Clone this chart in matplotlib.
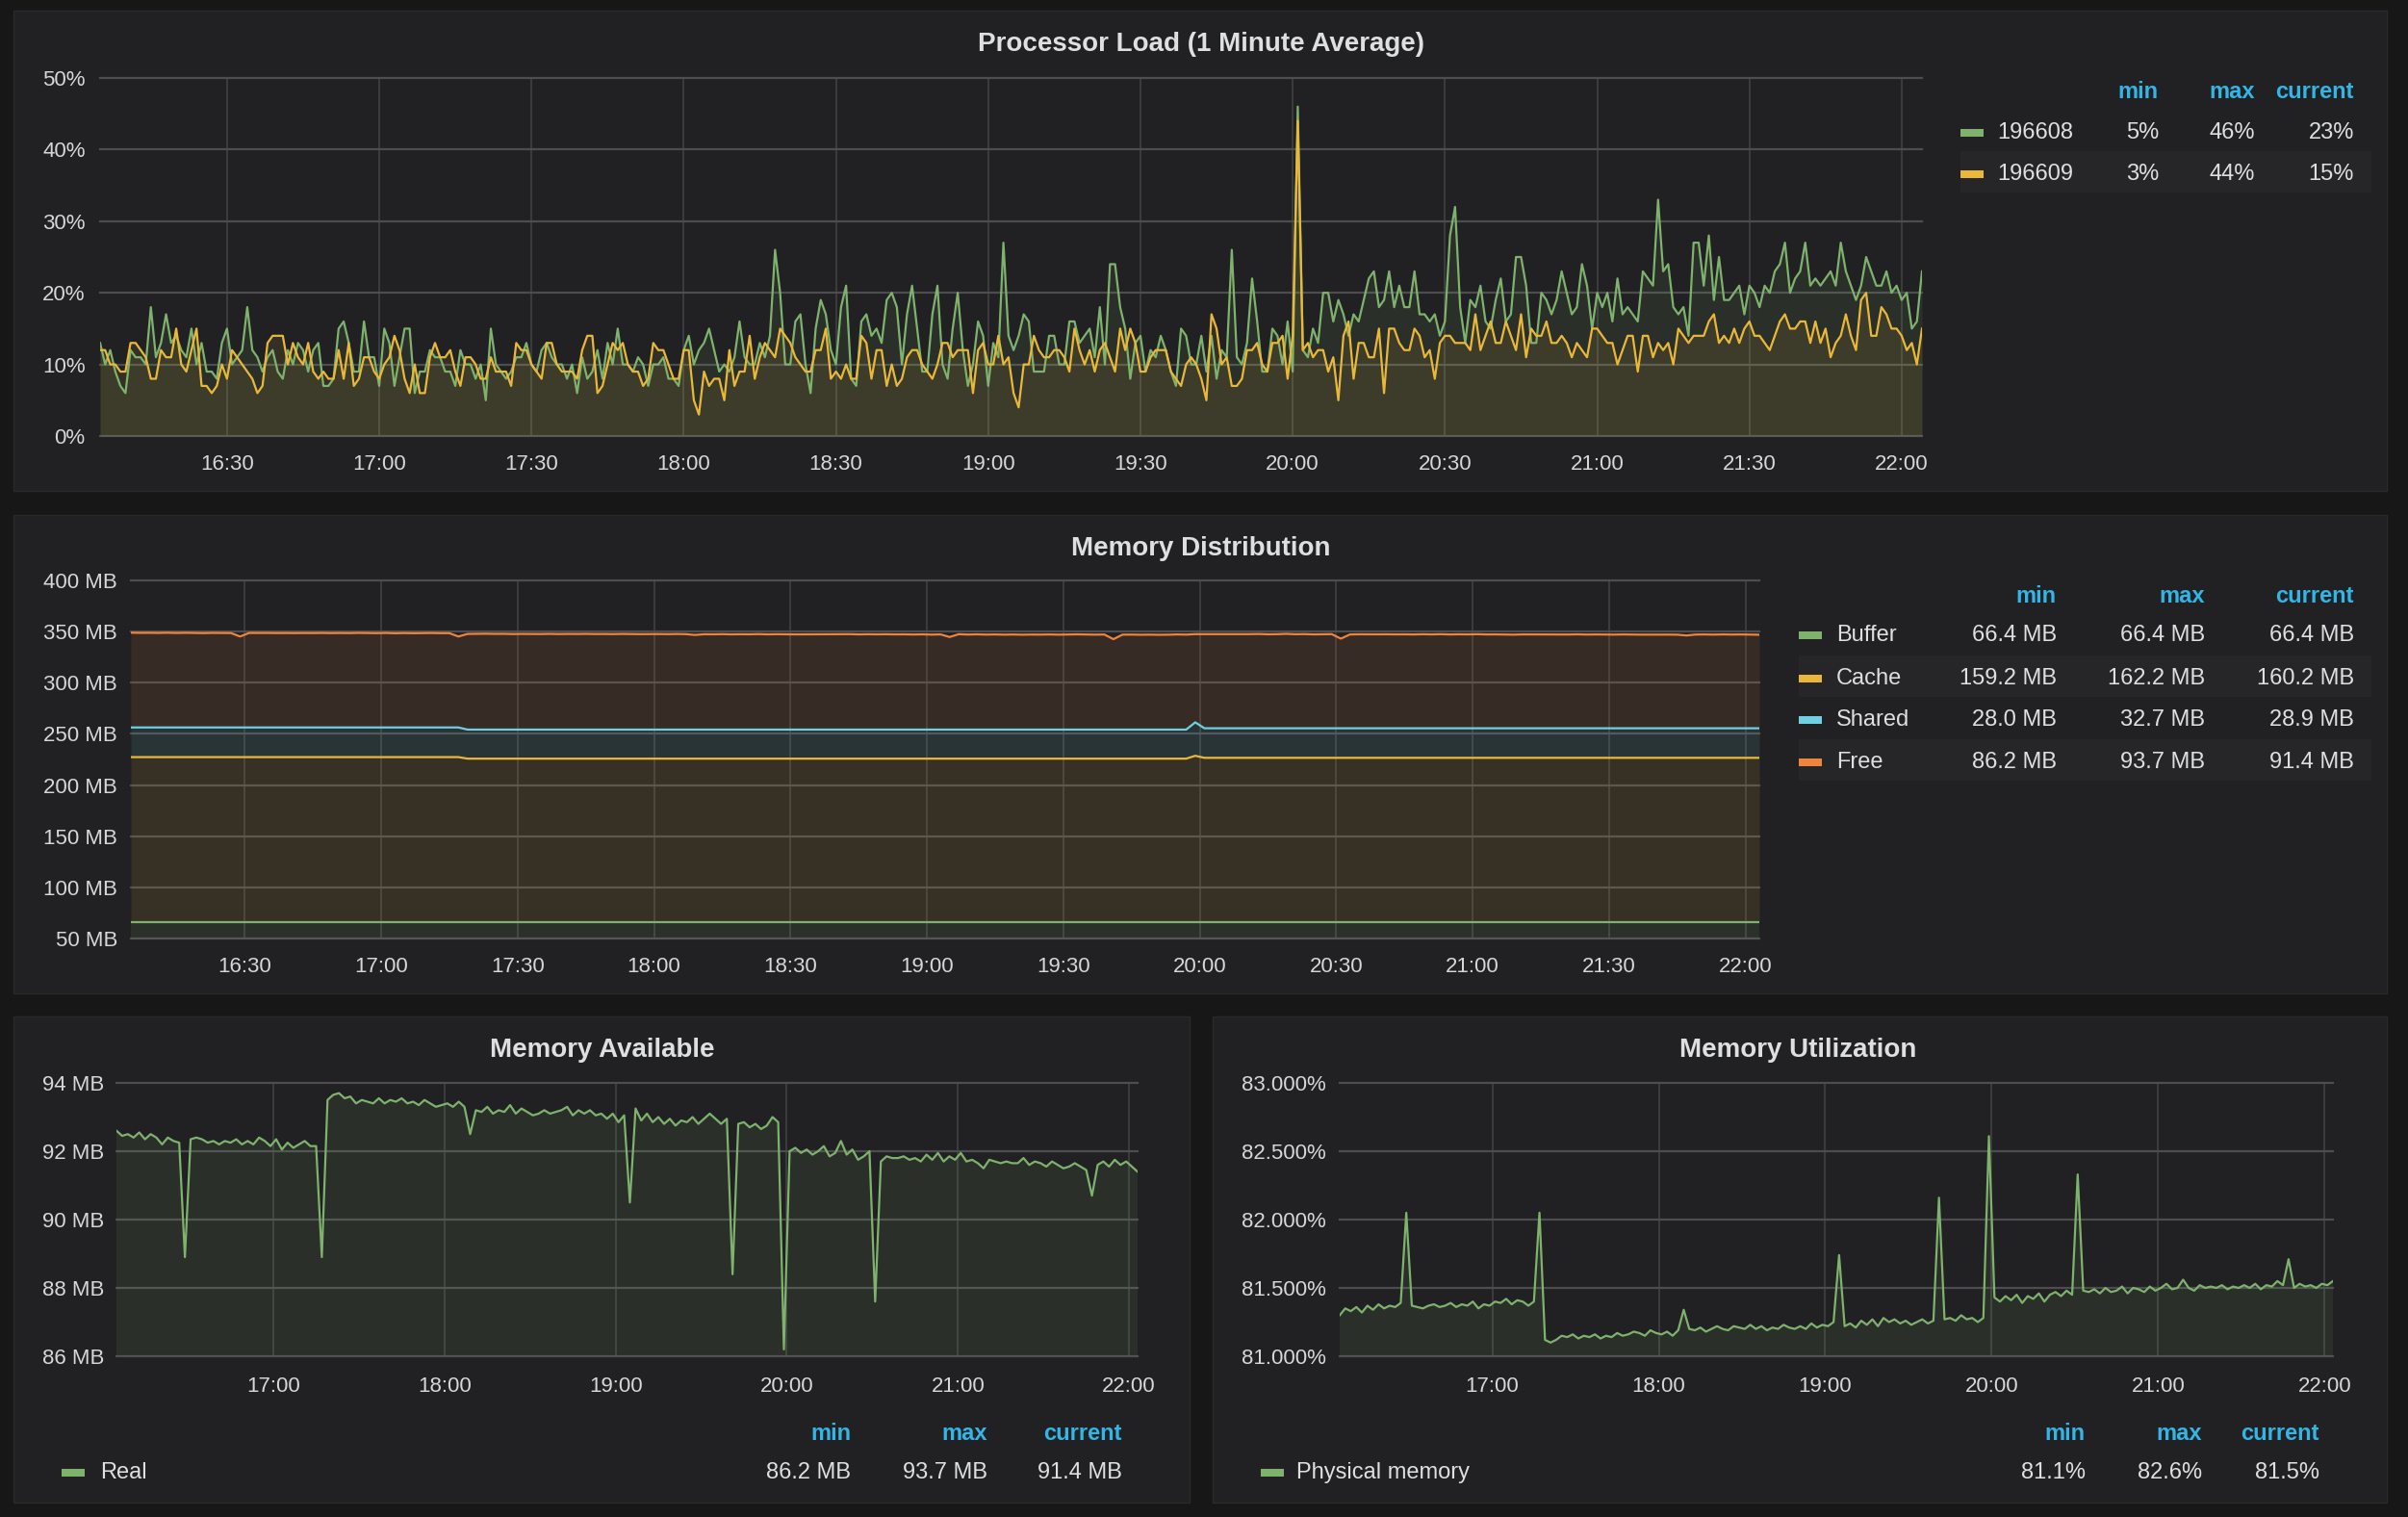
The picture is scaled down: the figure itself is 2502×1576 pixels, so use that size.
import numpy as np
import matplotlib
matplotlib.use("Agg")
import matplotlib.pyplot as plt
from matplotlib.patches import Rectangle
from matplotlib.ticker import FixedLocator, FuncFormatter

plt.rcParams['font.family'] = ['Liberation Sans', 'DejaVu Sans']

# ---------------------------------------------------------------- data
# Processor load, one value per minute starting 16:05 (percent)
cpu_start = 5          # minutes after 16:00
cpu_196608 = [
    13,10,12,9,7,6,12,11,11,10, 18,11,13,17,13,14,12,11,15,10, 13,9,9,8,13,15,10,11,12,18,
    12,11,9,11,12,9,8,12,10,13, 12,9,12,13,7,7,8,15,16,13, 9,9,16,11,11,7,15,13,7,11,
    15,15,6,9,9,12,11,11,9,9, 7,12,10,10,8,10,5,15,10,9, 8,9,11,11,13,10,9,12,13,11, 10,
    10,8,10,6,11,8,9,12,8,13, 10,15,10,10,9,11,10,7,10,10, 11,8,8,7,12,14,10,12,13,15,
    12,9,10,9,11,16,11,10,10,13, 11,14,26,20,10,10,16,17,10,6, 15,19,17,12,10,18,21,8,7,16,
    17,14,15,13,19,20,18,10,17,21, 15,9,9,17,21,10,8,15,20,12, 7,10,16,14,7,13,11,27,14,12,
    14,17,16,9,9,9,14,14,10,10, 16,16,13,14,15,11,18,10,24,24, 18,15,8,13,14,9,12,11,14,12,
    9,7,15,14,10,10,14,9,14,8, 12,11,26,11,10,13,22,16,9,9, 15,14,10,16,9,46,12,11,15,13,
    20,20,16,19,17,14,17,16,19,22, 23,18,19,23,18,21,18,18,23,17, 17,16,17,14,16,28,32,18,13,19,
    18,21,16,15,19,22,16,17,25,25, 21,13,13,20,19,17,19,23,20,17, 18,24,21,15,20,18,20,16,22,17,
    18,17,16,23,22,21,33,23,24,18, 17,18,14,27,27,21,28,19,25,19, 19,20,21,17,21,20,18,21,20,23,
    24,27,20,22,23,27,21,22,21,22, 23,21,27,23,21,19,21,25,23,21, 21,23,20,21,19,20,15,16,23,
]
cpu_196609 = [
    12,12,10,10,9,9,13,13,12,11, 8,8,12,11,11,15,10,9,12,15, 7,7,6,7,10,8,12,11,10,9,
    8,6,7,13,14,14,14,10,13,11, 10,13,9,8,9,8,8,12,8,13, 7,8,11,11,9,8,10,11,14,12,
    8,6,10,6,6,11,13,11,11,12, 9,7,11,11,10,8,8,11,9,9, 9,7,13,12,12,10,9,8,13,13, 10,
    9,9,9,8,12,14,14,6,7,10, 13,12,13,10,9,9,7,8,13,12, 12,10,8,8,12,12,5,3,9,7,
    8,8,5,12,7,9,9,14,8,11, 13,12,11,15,14,13,11,10,9,9, 12,12,15,8,9,8,10,8,8,14,
    13,8,12,12,7,10,7,8,11,12, 12,10,9,8,10,13,13,11,12,12, 12,6,12,13,10,10,14,10,11,6,
    4,10,10,14,12,11,11,12,12,11, 9,15,12,10,12,9,12,13,11,9, 15,12,15,13,9,9,11,12,12,12,
    9,8,7,10,11,10,8,5,17,15, 10,11,7,7,8,12,12,13,10,9, 13,13,14,8,14,44,12,13,11,12,
    12,9,11,5,14,16,8,13,13,11, 11,15,6,15,15,13,12,12,15,14, 11,12,8,13,14,14,13,13,13,12,
    17,12,14,16,13,13,16,14,12,17, 11,15,14,14,16,13,13,14,13,11, 13,12,11,15,15,14,13,13,10,12,
    14,14,9,14,14,11,13,12,13,10, 15,14,13,14,14,14,16,17,13,14, 13,15,13,15,16,14,14,13,12,14,
    16,17,15,15,16,16,13,16,13,15, 11,13,14,17,14,12,19,20,14,14, 18,17,15,15,14,12,13,10,15,
]
cpu_names = ['196608', '196609']
cpu_stats = [['5%', '46%', '23%'], ['3%', '44%', '15%']]

# Memory series, one value every 2 minutes starting 16:05
mem_start = 5
mem_step = 2
mem_real = [
    92.6, 92.45, 92.5, 92.4, 92.55, 92.35, 92.5, 92.4, 92.2, 92.4, 92.3, 92.25,
    88.9,
    92.35, 92.4, 92.35, 92.25, 92.3, 92.2, 92.3, 92.25, 92.35, 92.2, 92.3, 92.2, 92.4, 92.3,
    92.15, 92.35, 92.05, 92.25, 92.1, 92.2, 92.3, 92.15, 92.15,
    88.9, 93.5,
    93.65, 93.7, 93.55, 93.6, 93.4, 93.5, 93.45, 93.4, 93.55, 93.4, 93.5, 93.45, 93.55, 93.4,
    93.45, 93.35, 93.5, 93.4, 93.3, 93.35, 93.4, 93.3, 93.45, 93.3,
    92.5,
    93.2, 93.15, 93.3, 93.1, 93.2, 93.15, 93.35, 93.1, 93.25, 93.15, 93.05, 93.1, 93.2, 93.1,
    93.15, 93.2, 93.3, 93.05, 93.2, 93.1, 93.2, 93.05, 93.1, 92.95, 93.1, 92.85, 93.05,
    90.5,
    93.25, 92.9, 93.1, 92.85, 93.0, 92.8, 92.95, 92.75, 92.9, 92.85, 93.0, 92.8, 92.95, 93.1,
    92.95, 92.8, 92.95,
    88.4,
    92.8, 92.85, 92.7, 92.8, 92.65, 92.75, 93.0, 92.85,
    86.2,
    92.0, 92.1, 91.95, 92.05, 91.9, 92.0, 92.15, 91.85, 91.95, 92.3, 91.9, 92.05, 91.75, 91.85, 92.0,
    87.6,
    91.7, 91.85, 91.8, 91.8, 91.85, 91.75, 91.8, 91.7, 91.9, 91.75, 91.95, 91.7, 91.85, 91.75,
    91.95, 91.7, 91.75, 91.65, 91.5, 91.75, 91.7, 91.65, 91.7, 91.65, 91.65, 91.8, 91.6, 91.7,
    91.65, 91.55, 91.7, 91.6, 91.5, 91.55, 91.65, 91.55, 91.45,
    90.7,
    91.6, 91.7, 91.55, 91.75, 91.6, 91.7, 91.55, 91.4,
]
mem_util = [
    81.3, 81.35, 81.33, 81.36, 81.32, 81.37, 81.34, 81.38, 81.35, 81.37, 81.36, 81.39,
    82.05,
    81.37, 81.36, 81.35, 81.37, 81.38, 81.36, 81.37, 81.39, 81.36, 81.38, 81.37, 81.4, 81.35,
    81.38, 81.37, 81.4, 81.39, 81.42, 81.38, 81.41, 81.4, 81.37, 81.4,
    82.05, 81.12,
    81.1, 81.12, 81.15, 81.14, 81.16, 81.13, 81.15, 81.14, 81.16, 81.13, 81.15, 81.14, 81.17,
    81.15, 81.16, 81.18, 81.17, 81.15, 81.19, 81.17, 81.16, 81.18, 81.15, 81.19,
    81.34,
    81.2, 81.19, 81.21, 81.18, 81.2, 81.22, 81.2, 81.19, 81.22, 81.21, 81.2, 81.23, 81.2, 81.22,
    81.19, 81.21, 81.2, 81.23, 81.21, 81.2, 81.22, 81.2, 81.24, 81.21, 81.23, 81.22, 81.25,
    81.74,
    81.22, 81.24, 81.21, 81.26, 81.23, 81.27, 81.22, 81.28, 81.25, 81.27, 81.24, 81.26, 81.23,
    81.25, 81.27, 81.24, 81.26,
    82.16,
    81.27, 81.28, 81.26, 81.3, 81.27, 81.28, 81.25, 81.28,
    82.61,
    81.43, 81.4, 81.44, 81.41, 81.45, 81.39, 81.44, 81.42, 81.46, 81.4, 81.45, 81.47, 81.44,
    81.48, 81.45,
    82.33,
    81.48, 81.47, 81.49, 81.46, 81.5, 81.47, 81.48, 81.51, 81.46, 81.5, 81.49, 81.47, 81.51,
    81.48, 81.5, 81.53, 81.49, 81.5, 81.56, 81.5, 81.48, 81.52, 81.5, 81.51, 81.5, 81.52, 81.49,
    81.51, 81.5, 81.52, 81.5, 81.53, 81.49, 81.52, 81.51, 81.55, 81.52,
    81.71,
    81.5, 81.53, 81.51, 81.52, 81.5, 81.53, 81.52, 81.55,
]
mem_buffer = [66.4] * 180
mem_cache = [160.9] * 37 + [159.4] * 80 + [162.2] + [160.2] * 62
mem_shared = [29.0] * 37 + [28.4] * 80 + [32.7] + [28.9] * 62
mem_free = mem_real
dist_names = ['Buffer', 'Cache', 'Shared', 'Free']
dist_stats = [['66.4 MB', '66.4 MB', '66.4 MB'], ['159.2 MB', '162.2 MB', '160.2 MB'],
              ['28.0 MB', '32.7 MB', '28.9 MB'], ['86.2 MB', '93.7 MB', '91.4 MB']]
avail_names = ['Real']
avail_stats = [['86.2 MB', '93.7 MB', '91.4 MB']]
util_names = ['Physical memory']
util_stats = [['81.1%', '82.6%', '81.5%']]
stat_headers = ['min', 'max', 'current']

# ---------------------------------------------------------------- style
W, H = 2502, 1576
FIG_BG = '#171718'
PANEL_BG = '#212123'
PANEL_EDGE = '#2a2a2c'
ROW_HL = '#262628'
HGRID = '#4d4d4f'
VGRID = '#444446'
TXT = '#dedfe0'
TICK = '#d6d7d8'
BLUE = '#33b5e5'
GREEN = '#7eb26d'
YELLOW = '#eab839'
CYAN = '#6ed0e0'
ORANGE = '#ef843c'
DY = 3  # baseline nudge for centred text

fig = plt.figure(figsize=(W / 100, H / 100), dpi=100, facecolor=FIG_BG)


def frect(x0, y0, x1, y1):
    return [x0 / W, 1 - y1 / H, (x1 - x0) / W, (y1 - y0) / H]


def T(x, y, s, **kw):
    fig.text(x / W, 1 - (y + DY) / H, s, **kw)


def box(x0, y0, x1, y1, fc, ec='none', lw=0):
    fig.add_artist(Rectangle((x0 / W, 1 - y1 / H), (x1 - x0) / W, (y1 - y0) / H,
                             transform=fig.transFigure, facecolor=fc,
                             edgecolor=ec, linewidth=lw, zorder=0))


def hm(m, _=None):
    m = int(round(m))
    return f"{16 + m // 60}:{m % 60:02d}"


def style_axes(ax, xlim, xticks, ylim, yticks, yfmt, ypad, xpad):
    ax.set_facecolor('none')
    for s in ax.spines.values():
        s.set_visible(False)
    ax.set_xlim(*xlim)
    ax.set_ylim(*ylim)
    ax.xaxis.set_major_locator(FixedLocator(xticks))
    ax.xaxis.set_major_formatter(FuncFormatter(hm))
    ax.yaxis.set_major_locator(FixedLocator(yticks))
    ax.yaxis.set_major_formatter(FuncFormatter(yfmt))
    ax.tick_params(axis='both', length=0, labelsize=16, labelcolor=TICK)
    ax.tick_params(axis='y', pad=ypad)
    ax.tick_params(axis='x', pad=xpad)
    for v in yticks:
        ax.axhline(v, color=HGRID, lw=1.6, zorder=0.5, clip_on=False)
    for v in xticks:
        ax.axvline(v, color=VGRID, lw=1.1, zorder=0.4)


def legend(hx, hy, rows_y, sw_x, name_x, names, colors, stats, hl_rows=(), hl_right=None):
    for hxi, h in zip(hx, stat_headers):
        T(hxi, hy, h, color=BLUE, fontsize=17, fontweight='bold', ha='right', va='center')
    for i, (ry, nm, col, st) in enumerate(zip(rows_y, names, colors, stats)):
        if i in hl_rows:
            box(sw_x, ry - 21, hl_right, ry + 22, ROW_HL)
        fig.add_artist(Rectangle((sw_x / W, 1 - (ry + 7) / H), 24 / W, 8 / H,
                                 transform=fig.transFigure, facecolor=col,
                                 edgecolor='none', zorder=2))
        T(name_x, ry, nm, color=TXT, fontsize=17, ha='left', va='center')
        for hxi, v in zip(hx, st):
            T(hxi, ry, v, color=TXT, fontsize=17, ha='right', va='center')


# ---------------------------------------------------------------- panels
box(14, 11, 2480, 510, PANEL_BG, PANEL_EDGE, 1)
box(14, 535, 2480, 1032, PANEL_BG, PANEL_EDGE, 1)
box(14, 1056, 1236, 1561, PANEL_BG, PANEL_EDGE, 1)
box(1260, 1056, 2480, 1561, PANEL_BG, PANEL_EDGE, 1)

title_kw = dict(color=TXT, fontsize=20, fontweight='bold', ha='center', va='center')
T(1248, 43, 'Processor Load (1 Minute Average)', **title_kw)
T(1248, 567, 'Memory Distribution', **title_kw)
T(626, 1088, 'Memory Available', **title_kw)
T(1868, 1088, 'Memory Utilization', **title_kw)

# ---- Processor load
t_cpu = cpu_start + np.arange(len(cpu_196608))
ax1 = fig.add_axes(frect(104, 81, 1997, 453))
style_axes(ax1, (t_cpu[0], t_cpu[-1]), list(range(30, 361, 30)), (0, 50),
           list(range(0, 51, 10)), lambda v, _=None: f"{v:.0f}%", 11, 14)
ax1.fill_between(t_cpu, 0, cpu_196608, color=GREEN, alpha=0.1, lw=0, zorder=1)
ax1.fill_between(t_cpu, 0, cpu_196609, color=YELLOW, alpha=0.1, lw=0, zorder=1)
ax1.plot(t_cpu, cpu_196608, color=GREEN, lw=1.6, zorder=3)
ax1.plot(t_cpu, cpu_196609, color=YELLOW, lw=1.6, zorder=3)
legend([2243, 2343, 2446], 93, [135, 178], 2037, 2075, cpu_names, [GREEN, YELLOW],
       cpu_stats, hl_rows=(1,), hl_right=2464)

# ---- Memory distribution (stacked)
t_mem = mem_start + mem_step * np.arange(len(mem_real))
ax2 = fig.add_axes(frect(136, 603, 1828, 975))
style_axes(ax2, (t_mem[0], t_mem[-1]), list(range(30, 361, 30)), (50, 400),
           list(range(50, 401, 50)), lambda v, _=None: f"{v:.0f} MB", 10, 14)
stack = np.cumsum(np.array([mem_buffer, mem_cache, mem_shared, mem_free]), axis=0)
lower = np.zeros(len(t_mem))
for upper, col in zip(stack, [GREEN, YELLOW, CYAN, ORANGE]):
    ax2.fill_between(t_mem, lower, upper, color=col, alpha=0.11, lw=0, zorder=1)
    ax2.plot(t_mem, upper, color=col, lw=1.6, zorder=3)
    lower = upper
legend([2137, 2291, 2446], 617, [657, 702, 745, 789], 1869, 1908, dist_names,
       [GREEN, YELLOW, CYAN, ORANGE], dist_stats, hl_rows=(1, 3), hl_right=2464)

# ---- Memory available
ax3 = fig.add_axes(frect(121, 1125, 1182, 1409))
style_axes(ax3, (t_mem[0], t_mem[-1]), list(range(60, 361, 60)), (86, 94),
           list(range(86, 95, 2)), lambda v, _=None: f"{v:.0f} MB", 9, 15)
ax3.fill_between(t_mem, 0, mem_real, color=GREEN, alpha=0.1, lw=0, zorder=1)
ax3.plot(t_mem, mem_real, color=GREEN, lw=1.6, zorder=3)
legend([884, 1026, 1166], 1486, [1527], 64, 104, avail_names, [GREEN], avail_stats)

# ---- Memory utilization
ax4 = fig.add_axes(frect(1392, 1125, 2424, 1409))
style_axes(ax4, (t_mem[0], t_mem[-1]), list(range(60, 361, 60)), (81, 83),
           [81, 81.5, 82, 82.5, 83], lambda v, _=None: f"{v:.3f}%", 10, 15)
ax4.fill_between(t_mem, 0, mem_util, color=GREEN, alpha=0.1, lw=0, zorder=1)
ax4.plot(t_mem, mem_util, color=GREEN, lw=1.6, zorder=3)
legend([2167, 2288, 2410], 1486, [1527], 1310, 1347, util_names, [GREEN], util_stats)

fig.savefig('out.png', dpi=100, facecolor=FIG_BG)
